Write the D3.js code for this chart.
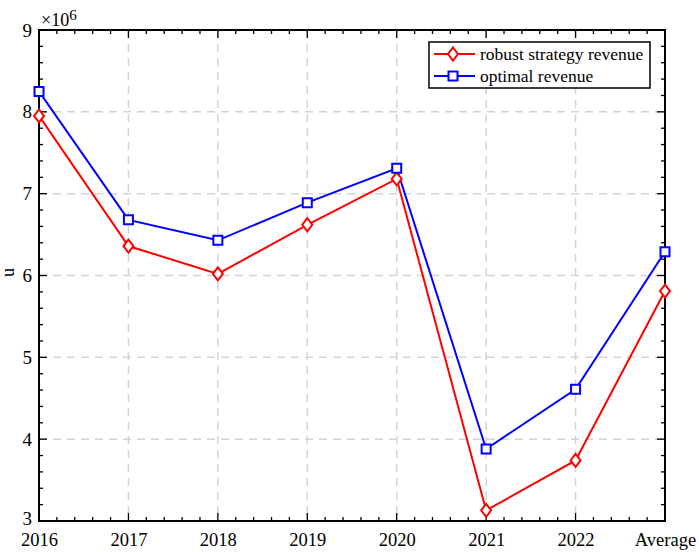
<!DOCTYPE html>
<html>
<head>
<meta charset="utf-8">
<script src="https://cdn.jsdelivr.net/npm/d3@7"></script>
<style>
  body { margin: 0; background: #fff; }
  svg text { font-family: "Liberation Serif", "Times New Roman", serif; }
</style>
</head>
<body>
<script>
// chart data (units of 10^6)
const years = ["2016", "2017", "2018", "2019", "2020", "2021", "2022", "Average"];
const robustRevenue = [7.95, 6.36, 6.02, 6.62, 7.18, 3.13, 3.74, 5.81];
const optimalRevenue = [8.25, 6.68, 6.43, 6.89, 7.31, 3.88, 4.61, 6.29];
const yTicks = [3, 4, 5, 6, 7, 8, 9];
const seriesNames = ["robust strategy revenue", "optimal revenue"];

const W = 699, H = 552;
const margin = {top: 30, right: 34, bottom: 31, left: 39};
const width = W - margin.left - margin.right;
const height = H - margin.top - margin.bottom;

const svg = d3.select("body").append("svg")
    .attr("width", W)
    .attr("height", H);

const g = svg.append("g")
    .attr("transform", "translate(" + margin.left + "," + margin.top + ")");

const x = d3.scalePoint().domain(years).range([0, width]);
const xi = d3.scaleLinear().domain([0, years.length - 1]).range([0, width]);
const y = d3.scaleLinear().domain([3, 9]).range([height, 0]);

// grid
g.append("g").selectAll("line").data(years.slice(1, -1)).join("line")
    .attr("x1", d => x(d)).attr("x2", d => x(d))
    .attr("y1", 0).attr("y2", height)
    .attr("stroke", "#d4d4d4").attr("stroke-width", 1.5)
    .attr("stroke-dasharray", "8,6");
g.append("g").selectAll("line").data(yTicks.slice(1, -1)).join("line")
    .attr("y1", d => y(d)).attr("y2", d => y(d))
    .attr("x1", 0).attr("x2", width)
    .attr("stroke", "#d4d4d4").attr("stroke-width", 1.5)
    .attr("stroke-dasharray", "8,6");

// minor + major ticks, inside on all four sides
const xMinor = d3.range(0, years.length - 1 + 1e-9, 0.2);
const yMinor = d3.range(3, 9 + 1e-9, 0.2);
const ticks = g.append("g").attr("stroke", "#000").attr("stroke-width", 1.3);
xMinor.forEach(v => {
  const major = Math.abs(v - Math.round(v)) < 1e-6;
  const len = major ? 8 : 4;
  ticks.append("line").attr("x1", xi(v)).attr("x2", xi(v)).attr("y1", height).attr("y2", height - len);
  ticks.append("line").attr("x1", xi(v)).attr("x2", xi(v)).attr("y1", 0).attr("y2", len);
});
yMinor.forEach(v => {
  const major = Math.abs(v - Math.round(v)) < 1e-6;
  const len = major ? 8 : 4;
  ticks.append("line").attr("y1", y(v)).attr("y2", y(v)).attr("x1", 0).attr("x2", len);
  ticks.append("line").attr("y1", y(v)).attr("y2", y(v)).attr("x1", width).attr("x2", width - len);
});

// axes labels
const xAxis = d3.axisBottom(x).tickSize(0).tickPadding(12);
const yAxis = d3.axisLeft(y).tickValues(yTicks).tickFormat(d3.format("d")).tickSize(0).tickPadding(7);

g.append("g").attr("transform", "translate(0," + height + ")").call(xAxis)
    .attr("font-family", null).attr("font-size", null)
    .call(a => a.select(".domain").remove())
    .selectAll("text").attr("font-size", 18.5).attr("fill", "#000");

g.append("g").call(yAxis)
    .attr("font-family", null).attr("font-size", null)
    .call(a => a.select(".domain").remove())
    .selectAll("text").attr("font-size", 19).attr("fill", "#000")
    .attr("dy", d => d === 3 ? "0.2em" : "0.32em");

// frame
g.append("rect").attr("width", width).attr("height", height)
    .attr("fill", "none").attr("stroke", "#000").attr("stroke-width", 2);

// exponent
const expo = svg.append("text").attr("x", margin.left + 2).attr("y", 26)
    .attr("font-size", 18).attr("fill", "#000");
expo.append("tspan").text("\u00d710");
expo.append("tspan").attr("dy", -6).attr("font-size", 15).text("6");

// y label
svg.append("text")
    .attr("transform", "translate(14," + (margin.top + height / 2 - 3) + ") rotate(-90)")
    .attr("text-anchor", "middle").attr("font-size", 18).text("u");

// lines
const line = d3.line().x((d, i) => x(years[i])).y(d => y(d));

g.append("path").datum(robustRevenue).attr("d", line)
    .attr("fill", "none").attr("stroke", "#ff0000").attr("stroke-width", 2);
g.append("path").datum(optimalRevenue).attr("d", line)
    .attr("fill", "none").attr("stroke", "#0000ff").attr("stroke-width", 2);

function diamond(sel) {
  sel.attr("d", "M0,-6.5L5,0L0,6.5L-5,0Z")
     .attr("fill", "#fff").attr("stroke", "#ff0000").attr("stroke-width", 2);
}
function square(sel) {
  sel.attr("d", "M-4.5,-4.5H4.5V4.5H-4.5Z")
     .attr("fill", "#fff").attr("stroke", "#0000ff").attr("stroke-width", 2);
}

g.selectAll(".m1").data(robustRevenue).join("path").attr("class", "m1")
    .attr("transform", (d, i) => "translate(" + x(years[i]) + "," + y(d) + ")")
    .call(diamond);
g.selectAll(".m2").data(optimalRevenue).join("path").attr("class", "m2")
    .attr("transform", (d, i) => "translate(" + x(years[i]) + "," + y(d) + ")")
    .call(square);

// legend
const lg = svg.append("g").attr("transform", "translate(429,42)");
lg.append("rect").attr("width", 221).attr("height", 46)
    .attr("fill", "#fff").attr("stroke", "#000").attr("stroke-width", 1.5);
const rows = [
  {name: seriesNames[0], color: "#ff0000", shape: diamond},
  {name: seriesNames[1], color: "#0000ff", shape: square}
];
rows.forEach((r, i) => {
  const yy = 12 + i * 22;
  lg.append("line").attr("x1", 5).attr("x2", 46).attr("y1", yy).attr("y2", yy)
      .attr("stroke", r.color).attr("stroke-width", 2);
  lg.append("path").attr("transform", "translate(24," + yy + ")").call(r.shape);
  lg.append("text").attr("x", 51).attr("y", yy + 5.5)
      .attr("font-size", 17.5).attr("fill", "#000").text(r.name);
});
</script>
</body>
</html>
